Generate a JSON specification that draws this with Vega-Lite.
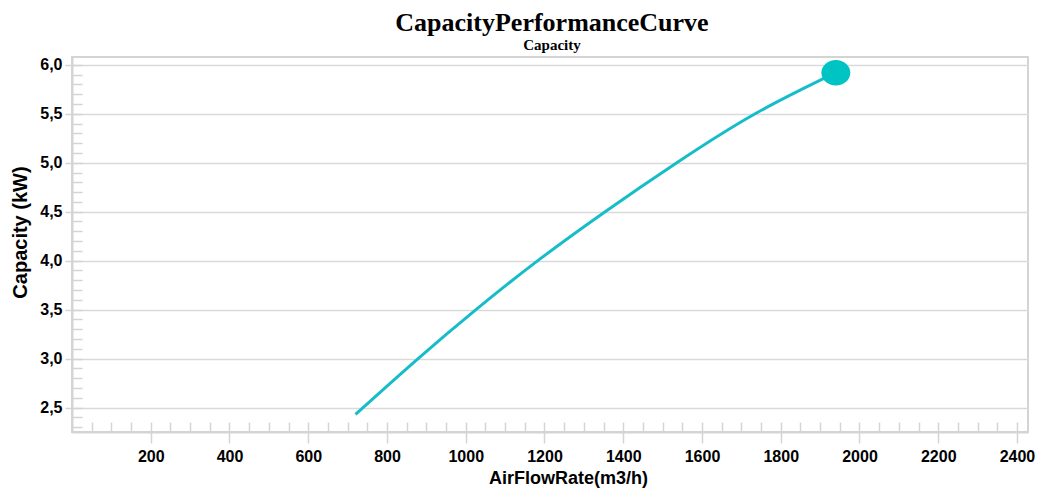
{
  "$schema": "https://vega.github.io/schema/vega-lite/v6.json",
  "width": 956,
  "height": 375,
  "autosize": {"type": "none"},
  "padding": {"left": 72, "top": 57, "right": 12, "bottom": 58},
  "background": "white",
  "config": {"view": {"stroke": "#d4d4d4", "strokeWidth": 2}},
  "title": {
    "text": "CapacityPerformanceCurve",
    "subtitle": "Capacity",
    "font": "Liberation Serif",
    "fontWeight": "bold",
    "fontSize": 26,
    "color": "#000000",
    "subtitleFont": "Liberation Serif",
    "subtitleFontWeight": "bold",
    "subtitleFontSize": 15,
    "subtitleColor": "#000000",
    "subtitlePadding": 2,
    "anchor": "middle",
    "offset": 4,
    "dx": 2
  },
  "datasets": {
    "curve": [
      {"airflow": 720, "capacity": 2.43},
      {"airflow": 879, "capacity": 3.0},
      {"airflow": 1026, "capacity": 3.5},
      {"airflow": 1183, "capacity": 4.0},
      {"airflow": 1354, "capacity": 4.5},
      {"airflow": 1536, "capacity": 5.0},
      {"airflow": 1735, "capacity": 5.5},
      {"airflow": 1940, "capacity": 5.92}
    ],
    "operating": [
      {"airflow": 1940, "capacity": 5.92}
    ]
  },
  "layer": [
    {
      "data": {"name": "curve"},
      "mark": {"type": "line", "color": "#16bdc8", "strokeWidth": 3, "interpolate": "natural"},
      "encoding": {
        "x": {
          "field": "airflow",
          "type": "quantitative",
          "scale": {"domain": [0, 2428], "nice": false, "zero": false},
          "axis": {
            "orient": "bottom",
            "values": [200, 400, 600, 800, 1000, 1200, 1400, 1600, 1800, 2000, 2200, 2400],
            "format": "d",
            "tickSize": 11,
            "tickColor": "#d4d4d4",
            "tickWidth": 1.5,
            "domainColor": "#d4d4d4",
            "domainWidth": 2,
            "grid": false,
            "labelFont": "Liberation Sans",
            "labelFontSize": 16,
            "labelFontWeight": "bold",
            "labelColor": "#000000",
            "labelPadding": 5,
            "title": "AirFlowRate(m3/h)",
            "titleFont": "Liberation Sans",
            "titleFontSize": 18,
            "titleFontWeight": "bold",
            "titleColor": "#000000",
            "titleX": 496,
            "titleY": 51,
            "titleAlign": "center",
            "titleBaseline": "alphabetic"
          }
        },
        "y": {
          "field": "capacity",
          "type": "quantitative",
          "scale": {"domain": [2.25, 6.08], "nice": false, "zero": false},
          "axis": {
            "orient": "left",
            "values": [2.5, 3.0, 3.5, 4.0, 4.5, 5.0, 5.5, 6.0],
            "labelExpr": "replace(format(datum.value, '.1f'), '.', ',')",
            "tickSize": 7,
            "tickColor": "#d4d4d4",
            "tickWidth": 1.5,
            "domainColor": "#d4d4d4",
            "domainWidth": 2,
            "grid": true,
            "gridColor": "#d9d9d9",
            "gridWidth": 1.5,
            "labelFont": "Liberation Sans",
            "labelFontSize": 16,
            "labelFontWeight": "bold",
            "labelColor": "#000000",
            "labelPadding": 3,
            "title": "Capacity (kW)",
            "titleFont": "Liberation Sans",
            "titleFontSize": 20,
            "titleFontWeight": "bold",
            "titleColor": "#000000",
            "titleAngle": -90,
            "titleX": -52,
            "titleY": 175,
            "titleAlign": "center",
            "titleBaseline": "middle"
          }
        }
      }
    },
    {
      "data": {"name": "operating"},
      "mark": {
        "type": "point",
        "shape": "M-1,0A1,0.88,0,1,0,1,0A1,0.88,0,1,0,-1,0Z",
        "filled": true,
        "color": "#00c4c4",
        "opacity": 1,
        "size": 841
      },
      "encoding": {
        "x": {
          "field": "airflow",
          "type": "quantitative",
          "axis": {
            "orient": "bottom",
            "values": [50, 100, 150, 200, 250, 300, 350, 400, 450, 500, 550, 600, 650, 700, 750, 800, 850, 900, 950, 1000, 1050, 1100, 1150, 1200, 1250, 1300, 1350, 1400, 1450, 1500, 1550, 1600, 1650, 1700, 1750, 1800, 1850, 1900, 1950, 2000, 2050, 2100, 2150, 2200, 2250, 2300, 2350, 2400],
            "tickSize": -10,
            "tickColor": "#d4d4d4",
            "tickWidth": 1.5,
            "labels": false,
            "domain": false,
            "grid": false,
            "title": null
          }
        },
        "y": {
          "field": "capacity",
          "type": "quantitative",
          "axis": {
            "orient": "left",
            "values": [2.3, 2.4, 2.5, 2.6, 2.7, 2.8, 2.9, 3.0, 3.1, 3.2, 3.3, 3.4, 3.5, 3.6, 3.7, 3.8, 3.9, 4.0, 4.1, 4.2, 4.3, 4.4, 4.5, 4.6, 4.7, 4.8, 4.9, 5.0, 5.1, 5.2, 5.3, 5.4, 5.5, 5.6, 5.7, 5.8, 5.9, 6.0],
            "tickSize": -10,
            "tickColor": "#d4d4d4",
            "tickWidth": 1.5,
            "labels": false,
            "domain": false,
            "grid": false,
            "title": null
          }
        }
      }
    }
  ],
  "resolve": {"axis": {"x": "independent", "y": "independent"}}
}
